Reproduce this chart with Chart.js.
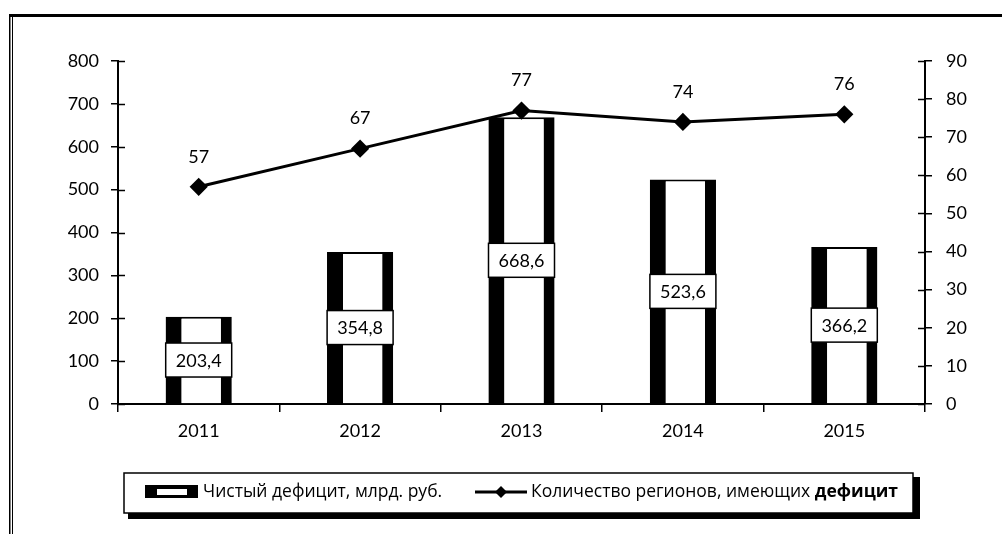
<!DOCTYPE html>
<html>
<head>
<meta charset="utf-8">
<script src="https://cdn.jsdelivr.net/npm/chart.js@4.4.1/dist/chart.umd.min.js"></script>
<style>
  html, body { margin: 0; padding: 0; background: #fff; }
  canvas { display: block; }
</style>
</head>
<body>
<canvas id="chart" width="1002" height="534"></canvas>
<script>
// Données
const years = ["2011", "2012", "2013", "2014", "2015"];
const deficit = [203.4, 354.8, 668.6, 523.6, 366.2];
const regions = [57, 67, 77, 74, 76];
const leftTicks = [0, 100, 200, 300, 400, 500, 600, 700, 800];
const rightTicks = [0, 10, 20, 30, 40, 50, 60, 70, 80, 90];
const legendBar = "Чистый дефицит, млрд. руб.";
const legendLine = "Количество регионов, имеющих ";
const legendLineBold = "дефицит";

const tickFont = { family: "Lato", size: 18 };
const fmt = v => String(v).replace(".", ",");

// Cadre de la figure
const framePlugin = {
    id: "frame",
    beforeDraw(chart) {
        const c = chart.ctx;
        c.save();
        c.fillStyle = "#fff";
        c.fillRect(0, 0, chart.width, chart.height);
        c.fillStyle = "#000";
        c.fillRect(9, 14, chart.width - 9, 3);
        c.fillRect(9, 14, 1.5, chart.height - 14);
        c.fillRect(12, 16, 1, chart.height - 16);
        c.restore();
    }
};

// Graduations qui traversent les axes verticaux
const crossTicks = {
    id: "crossTicks",
    afterDraw(chart) {
        const c = chart.ctx;
        c.save();
        c.strokeStyle = "#000";
        c.lineWidth = 1.5;
        ["y", "y1"].forEach(id => {
            const s = chart.scales[id];
            const x = id === "y" ? s.right : s.left;
            const dir = id === "y" ? 1 : -1;
            s.ticks.forEach((t, i) => {
                const py = Math.round(s.getPixelForTick(i)) + 0.5;
                c.beginPath();
                c.moveTo(x, py);
                c.lineTo(x + dir * 7, py);
                c.stroke();
            });
        });
        c.restore();
    }
};

// Étiquettes des valeurs
const valueLabels = {
    id: "valueLabels",
    afterDatasetsDraw(chart) {
        const c = chart.ctx;
        c.save();
        c.textAlign = "center";
        c.textBaseline = "middle";

        const bars = chart.getDatasetMeta(0).data;
        c.font = "18px Lato";
        bars.forEach((b, i) => {
            const cy = (b.y + b.base) / 2;
            c.fillStyle = "#fff";
            c.fillRect(b.x - 33, cy - 17, 66, 34);
            c.strokeStyle = "#000";
            c.lineWidth = 1.5;
            c.strokeRect(b.x - 33, cy - 17, 66, 34);
            c.fillStyle = "#000";
            c.fillText(fmt(deficit[i]), b.x, cy + 1);
        });

        const pts = chart.getDatasetMeta(1).data;
        c.font = "18px Lato";
        pts.forEach((p, i) => {
            c.fillText(fmt(regions[i]), p.x, p.y - 30);
        });
        c.restore();
    }
};

// Légende dessinée à la main
const customLegend = {
    id: "customLegend",
    afterDraw(chart) {
        const c = chart.ctx;
        c.save();
        const x0 = 124, y0 = 473, w = 789, h = 40;
        c.fillStyle = "#000";
        c.fillRect(x0 + 4, y0 + 4, w + 3, h + 2);
        c.fillStyle = "#fff";
        c.fillRect(x0, y0, w, h);
        c.strokeStyle = "#000";
        c.lineWidth = 1.5;
        c.strokeRect(x0, y0, w, h);

        const cy = y0 + h / 2 - 1;
        // symbole barre
        c.fillStyle = "#000";
        c.fillRect(145, cy - 7, 53, 13);
        c.fillStyle = "#fff";
        c.fillRect(157, cy - 3, 30, 6);

        c.fillStyle = "#000";
        c.textBaseline = "middle";
        c.textAlign = "left";
        c.font = "17.5px 'Open Sans'";
        c.fillText(legendBar, 203, cy);

        // symbole ligne
        c.strokeStyle = "#000";
        c.lineWidth = 3;
        c.beginPath();
        c.moveTo(475, cy);
        c.lineTo(527, cy);
        c.stroke();
        c.beginPath();
        c.moveTo(501, cy - 6);
        c.lineTo(507, cy);
        c.lineTo(501, cy + 6);
        c.lineTo(495, cy);
        c.closePath();
        c.fill();

        c.font = "17.5px 'Open Sans'";
        c.fillText(legendLine, 531, cy);
        const wNorm = c.measureText(legendLine).width;
        c.font = "bold 17.5px 'Open Sans'";
        c.fillText(legendLineBold, 531 + wNorm, cy);
        c.restore();
    }
};

const ctx = document.getElementById("chart").getContext("2d");

new Chart(ctx, {
    data: {
        labels: years,
        datasets: [
            {
                type: "bar",
                label: legendBar,
                data: deficit,
                yAxisID: "y",
                backgroundColor: "#fff",
                borderColor: "#000",
                borderWidth: { left: 16, right: 11, top: 2, bottom: 0 },
                barPercentage: 0.41,
                categoryPercentage: 1,
                order: 1
            },
            {
                type: "line",
                label: legendLine + legendLineBold,
                data: regions,
                yAxisID: "y1",
                borderColor: "#000",
                borderWidth: 3,
                tension: 0,
                pointStyle: "rectRot",
                pointRadius: 7,
                pointBackgroundColor: "#000",
                pointBorderColor: "#000",
                order: 0
            }
        ]
    },
    options: {
        responsive: false,
        devicePixelRatio: 1,
        animation: false,
        layout: { padding: { top: 61, bottom: 70, left: 0, right: 0 } },
        plugins: {
            legend: { display: false },
            tooltip: { enabled: false }
        },
        scales: {
            x: {
                grid: { offset: true, drawOnChartArea: false, tickLength: 8, color: "#000", lineWidth: 1.5 },
                border: { color: "#000", width: 2 },
                ticks: { color: "#000", font: tickFont, padding: 8 },
                afterFit(s) { s.height = 60; }
            },
            y: {
                position: "left",
                min: leftTicks[0],
                max: leftTicks[leftTicks.length - 1],
                ticks: { stepSize: 100, color: "#000", font: tickFont, padding: 12 },
                grid: { drawOnChartArea: false, tickLength: 7, color: "#000", lineWidth: 1.5 },
                border: { color: "#000", width: 2 },
                afterFit(s) { s.width = 118; }
            },
            y1: {
                position: "right",
                min: rightTicks[0],
                max: rightTicks[rightTicks.length - 1],
                ticks: { stepSize: 10, color: "#000", font: tickFont, padding: 14 },
                grid: { drawOnChartArea: false, tickLength: 7, color: "#000", lineWidth: 1.5 },
                border: { color: "#000", width: 2 },
                afterFit(s) { s.width = 77; }
            }
        }
    },
    plugins: [framePlugin, crossTicks, valueLabels, customLegend]
});
</script>
</body>
</html>
